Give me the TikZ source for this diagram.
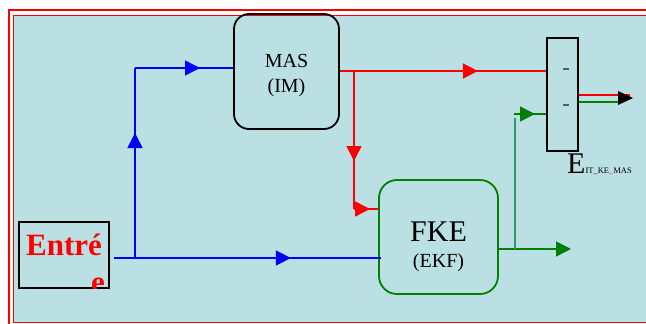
\documentclass[tikz,border=0pt]{standalone}
\usepackage{fontspec}
\setmainfont{Liberation Serif}
\usetikzlibrary{arrows.meta,decorations.markings,calc}

\definecolor{fond}{RGB}{186,224,227}
\definecolor{vert}{RGB}{0,128,0}
\definecolor{vertclair}{RGB}{52,150,105}
\definecolor{gristiret}{RGB}{90,90,90}

\begin{document}
\begin{tikzpicture}[x=1pt,y=-1pt,
  bloc/.style={draw=black,line width=1.8pt,rounded corners=15pt,
    minimum width=105pt,minimum height=115pt,inner sep=0pt},
  boite/.style={draw=black,line width=1.7pt,inner sep=0pt},
  fleche/.style={postaction={decorate},decoration={markings,
    mark=at position #1 with {\arrow{Triangle[length=15pt,width=15pt]}}}},
  bleu/.style={draw=blue,line width=1.6pt},
  rouge/.style={draw=red,line width=1.6pt},
  vertl/.style={draw=vert,line width=1.6pt},
  txtmoyen/.style={font=\fontsize{20}{22}\selectfont,inner sep=0pt},
  txtgrand/.style={font=\fontsize{30}{32}\selectfont,inner sep=0pt},
  entreetxt/.style={font=\fontsize{31}{33}\selectfont\bfseries,text=red,inner sep=0pt}]

\useasboundingbox (0,0) rectangle (646,324);

% ===== Cadre =====
\fill[fond] (14,16) rectangle (646,322);
\draw[red,line width=2pt] (9,330) -- (9,10) -- (650,10);
\draw[red,line width=1.6pt] (650,322.5) -- (13.5,322.5) -- (13.5,15.5) -- (650,15.5);

% ===== Blocs =====
\node[bloc] (mas) at (286.5,71.5) {};
\node[bloc,draw=vert,rounded corners=18pt,minimum width=119pt,minimum height=114pt] (fke) at (438.5,237) {};
\node[boite,minimum width=31pt,minimum height=113pt] (mux) at (562.5,94.5) {};
\node[boite,minimum width=90pt,minimum height=66pt] (entree) at (64,255) {};

% textes des blocs
\node[txtmoyen,anchor=base] (mas1) at (286.5,67) {MAS};
\node[txtmoyen,anchor=base] (mas2) at (286.5,92) {(IM)};
\node[txtgrand,anchor=base] (fke1) at (438.5,241) {FKE};
\node[txtmoyen,anchor=base] (fke2) at (438.5,267) {(EKF)};

% texte coupe par la boite
\begin{scope}
  \clip (entree.south west) rectangle (entree.north east);
  \node[entreetxt,anchor=base west] (entre1) at (26,255) {Entré};
  \node[entreetxt,anchor=base east] (entre2) at (105,292) {e};
\end{scope}

% tirets du multiplexeur
\draw[gristiret,line width=1.3pt] ($(mux.center)+(0.5,-25.5)$) -- ++(6,0);
\draw[gristiret,line width=1.3pt] ($(mux.center)+(0.5,10.5)$) -- ++(6,0);

% ===== Points de jonction =====
\coordinate (jb) at (135,258);
\coordinate (jbh) at (135,68);
\coordinate (jr) at (354,71);
\coordinate (jrb) at (354,209);
\coordinate (jv) at (515,249);
\coordinate (jvh) at (515,118);
\coordinate (gin) at (514,114);
\coordinate (gout) at (571,249);
\coordinate (sr) at (630,95);
\coordinate (sv) at (622,102);
\coordinate (sortie) at (633,98);

% ===== Liaisons bleues =====
\draw[bleu,fleche=177pt] ($(entree.east |- jb)+(4,0)$) -- ($(fke.west |- jb)+(3,0)$);
\draw[bleu,fleche=125pt] (jb) -- (jbh);
\draw[bleu,fleche=65pt] (jbh) -- (mas.west |- jbh);

% ===== Liaisons rouges =====
\draw[rouge,fleche=138pt] (mas.east |- jr) -- (mux.west |- jr);
\draw[rouge,fleche=90pt] (jr) -- (jrb);
\draw[rouge,fleche=16pt] (jrb) -- (fke.west |- jrb);

% ===== Liaisons vertes =====
\draw[vertl,-{Triangle[length=15pt,width=15pt]}] (fke.east |- jv) -- (gout);
\draw[vertclair,line width=2pt] (jv) -- (jvh);
\draw[vertl,fleche=21pt] (gin) -- (mux.west |- gin);

% ===== Sortie =====
\draw[rouge] (mux.east |- sr) -- (sr);
\draw[vertl] (mux.east |- sv) -- (sv);
\fill[black] (sortie) -- ++(-15,-7) -- ++(0,14) -- cycle;

\node[txtgrand,anchor=base west] (etiq) at (567,173)
  {E\fontsize{8.5}{9}\selectfont IT\_KE{\color{red}\_}MAS};

\end{tikzpicture}
\end{document}
